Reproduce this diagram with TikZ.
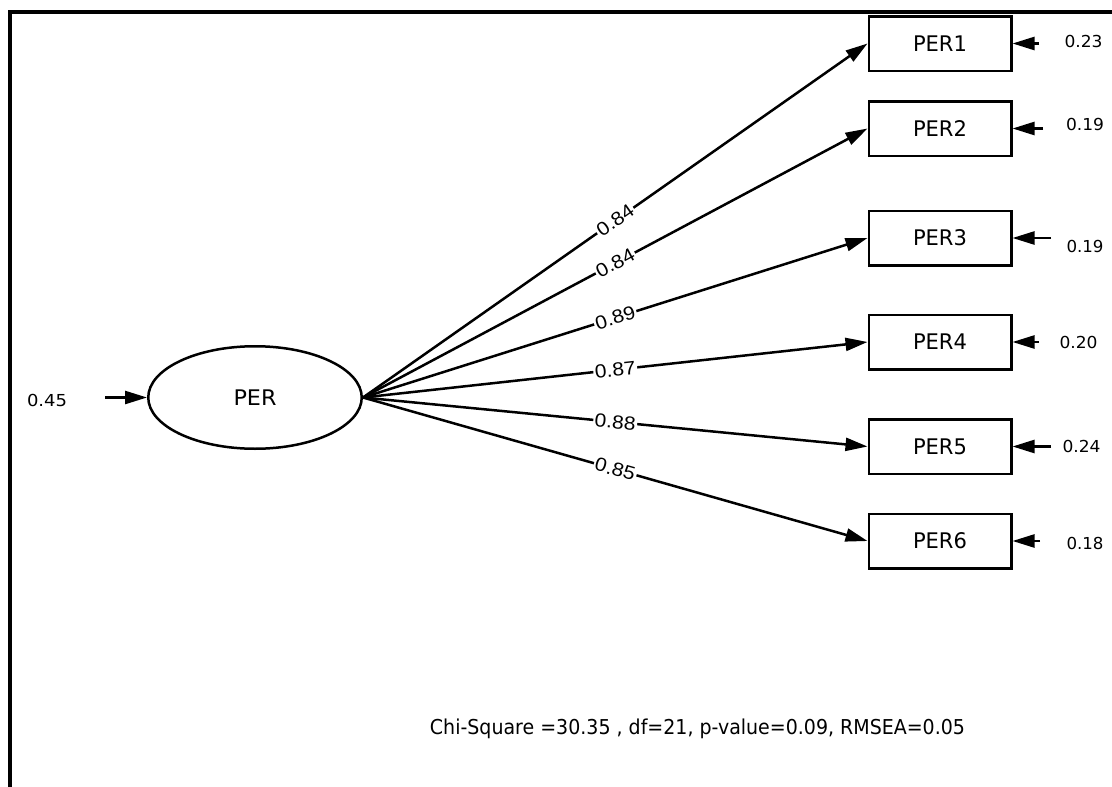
\documentclass[tikz,border=0pt]{standalone}
\usepackage{graphicx}
\usepackage{fontspec}
\setmainfont{DejaVu Sans}
\newfontfamily\numfont{Liberation Sans}
\usetikzlibrary{arrows.meta,shapes.geometric}
% stretch text horizontally to a given width, keeping its height
\newcommand{\hfit}[2]{\resizebox{#1}{\height}{#2}}

\begin{document}
\begin{tikzpicture}[x=1pt,y=-1pt,
  every node/.style={inner sep=0pt},
  indicator/.style={draw, line width=2.5pt, minimum width=142.5pt, minimum height=54.5pt,
    font=\fontsize{21.5}{21.5}\selectfont},
  latent/.style={draw, ellipse, line width=2.5pt, minimum width=213.5pt, minimum height=102.5pt,
    font=\fontsize{21.5}{21.5}\selectfont},
  loadarrow/.style={line width=2.5pt, -{Triangle[length=22pt,width=13pt]}},
  errarrow/.style={line width=2.5pt, -{Triangle[length=22pt,width=13pt]}},
  loadlab/.style={midway, sloped, fill=white, inner sep=1.5pt,
    font=\numfont\fontsize{19}{19}\selectfont},
  errlab/.style={font=\fontsize{16.5}{16.5}\selectfont},
]
\useasboundingbox (0,0) rectangle (1112,787);

% frame (top and left edges)
\draw[line width=4pt] (9.7,787) -- (9.7,12) -- (1112,12);

% latent variable
\node[latent] (per) at (255,397.5) {\hfit{43pt}{PER}};

% indicators
\node[indicator] (per1) at (940,43.5)  {\hfit{54pt}{PER1}};
\node[indicator] (per2) at (940,128.5) {\hfit{54pt}{PER2}};
\node[indicator] (per3) at (940,238)   {\hfit{54pt}{PER3}};
\node[indicator] (per4) at (940,342)   {\hfit{54pt}{PER4}};
\node[indicator] (per5) at (940,446.5) {\hfit{54pt}{PER5}};
\node[indicator] (per6) at (940,541)   {\hfit{54pt}{PER6}};

% factor loadings
\draw[loadarrow] (per.east) -- (per1.west) node[loadlab] {\hfit{41pt}{0.84}};
\draw[loadarrow] (per.east) -- (per2.west) node[loadlab] {\hfit{41pt}{0.84}};
\draw[loadarrow] (per.east) -- (per3.west) node[loadlab] {\hfit{41pt}{0.89}};
\draw[loadarrow] (per.east) -- (per4.west) node[loadlab] {\hfit{41pt}{0.87}};
\draw[loadarrow] (per.east) -- (per5.west) node[loadlab] {\hfit{41pt}{0.88}};
\draw[loadarrow] (per.east) -- (per6.west) node[loadlab] {\hfit{41pt}{0.85}};

% latent variance
\node[errlab] (v0) at (47,400) {\hfit{40pt}{0.45}};
\coordinate (e0) at (105,397.5);
\draw[errarrow] (e0) -- (per.west);

% error variances
\coordinate (e1) at (1039,43.5);
\coordinate (e2) at (1043,128.5);
\coordinate (e3) at (1051,238);
\coordinate (e4) at (1039,342);
\coordinate (e5) at (1051,446.5);
\coordinate (e6) at (1040,541);
\draw[errarrow] (e1) -- (per1.east);
\draw[errarrow] (e2) -- (per2.east);
\draw[errarrow] (e3) -- (per3.east);
\draw[errarrow] (e4) -- (per4.east);
\draw[errarrow] (e5) -- (per5.east);
\draw[errarrow] (e6) -- (per6.east);
\node[errlab] (v1) at (1083.5,41.5) {\hfit{38pt}{0.23}};
\node[errlab] (v2) at (1085,124)    {\hfit{38pt}{0.19}};
\node[errlab] (v3) at (1085,246)    {\hfit{37pt}{0.19}};
\node[errlab] (v4) at (1078.5,342)  {\hfit{38pt}{0.20}};
\node[errlab] (v5) at (1081.5,446)  {\hfit{38pt}{0.24}};
\node[errlab] (v6) at (1085,543)    {\hfit{37pt}{0.18}};

% fit statistics
\node[anchor=base, font=\fontsize{20.5}{20.5}\selectfont] (fit) at (697.5,734)
  {\hfit{535pt}{Chi-Square =30.35 , df=21, p-value=0.09, RMSEA=0.05}};
\end{tikzpicture}
\end{document}
